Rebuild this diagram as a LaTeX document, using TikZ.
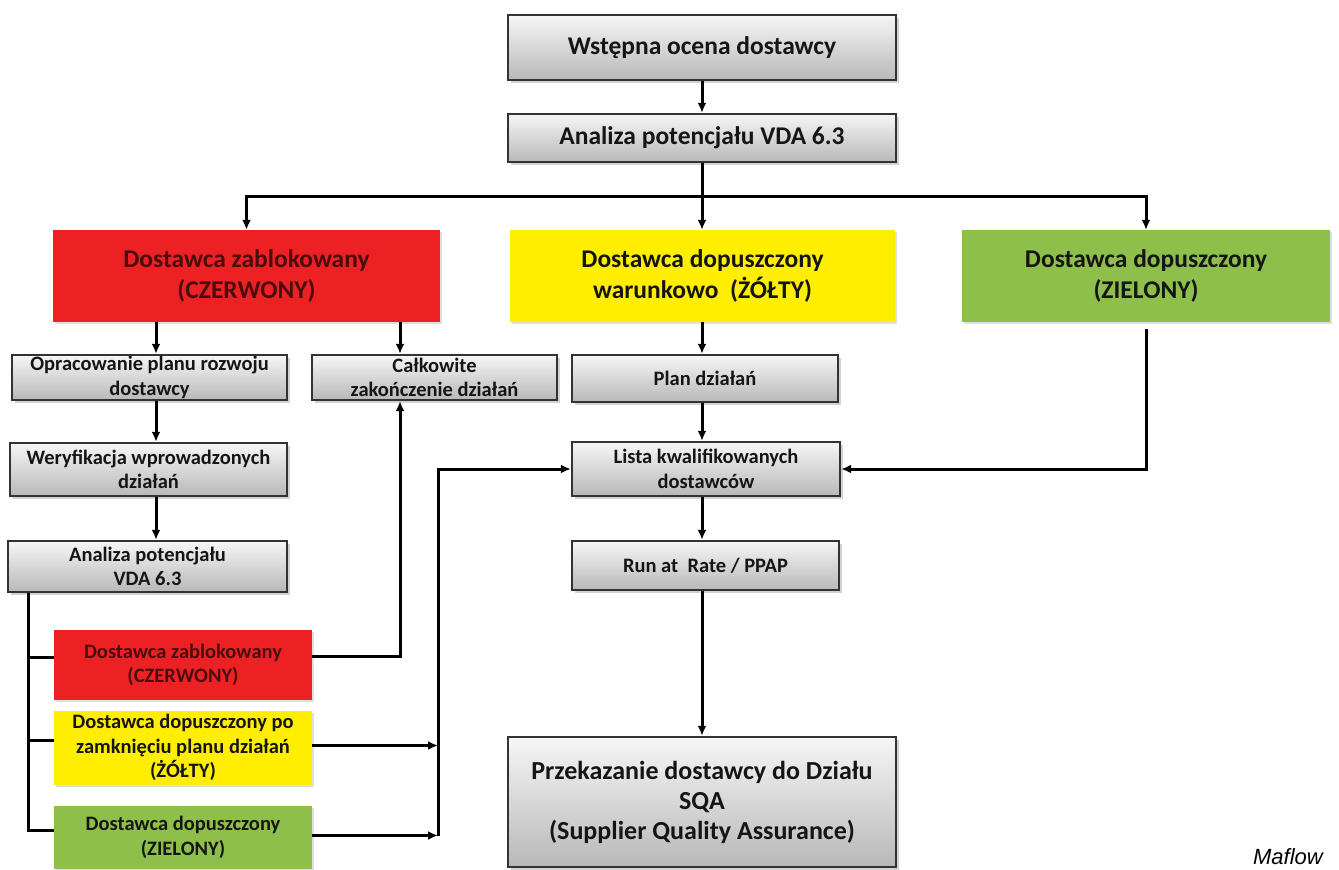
\documentclass[tikz,border=0pt]{standalone}
\usepackage{fontspec}
\setmainfont{Carlito}
\newfontfamily\capfont{Liberation Sans}
\usetikzlibrary{shadows,arrows.meta,calc}
\definecolor{gtop}{HTML}{F6F6F6}
\definecolor{gbot}{HTML}{B8B8B8}
\definecolor{gline}{HTML}{333333}
\definecolor{cred}{HTML}{ED2024}
\definecolor{cyel}{HTML}{FFEE00}
\definecolor{cgrn}{HTML}{8DBF4A}
\definecolor{tred}{HTML}{4A0D0D}
\definecolor{tdark}{HTML}{151515}
\begin{document}
\begin{tikzpicture}[x=1pt,y=-1pt,
 gbox/.style={draw=gline, line width=2.4pt, top color=gtop, bottom color=gbot,
   drop shadow={shadow xshift=3pt, shadow yshift=-3pt, opacity=0.35},
   align=center, text=tdark, inner xsep=1pt, inner ysep=0pt},
 cbox/.style={align=center, inner xsep=1pt, inner ysep=0pt, text=tdark,
   drop shadow={shadow xshift=2pt, shadow yshift=-2pt, opacity=0.25}},
 big/.style={font=\fontsize{25.5}{31}\selectfont\bfseries},
 small/.style={font=\fontsize{20.5}{24.5}\selectfont\bfseries},
 conn/.style={draw=black, line width=3pt, -{Latex[length=10pt,width=9pt]}},
 plain/.style={draw=black, line width=3pt}]
\useasboundingbox[fill=white] (0,0) rectangle (1339,870);

% top
\node[gbox,big,minimum width=388pt,minimum height=65pt] (wst) at (702,47.5) {Wstępna ocena dostawcy};
\node[gbox,big,minimum width=388pt,minimum height=48pt] (ana) at (702,138) {Analiza potencjału VDA 6.3};

% colour row
\node[cbox,big,fill=cred,text=tred,minimum width=387pt,minimum height=92pt] (red) at (246.5,276) {Dostawca zablokowany\\(CZERWONY)};
\node[cbox,big,fill=cyel,minimum width=385pt,minimum height=92pt] (yel) at (702.5,276) {Dostawca dopuszczony\\warunkowo~~(ŻÓŁTY)};
\node[cbox,big,fill=cgrn,minimum width=368pt,minimum height=92pt] (grn) at (1146,276) {Dostawca dopuszczony\\(ZIELONY)};

% left column
\node[gbox,small,minimum width=275pt,minimum height=45pt] (opr) at (149.5,377.5) {Opracowanie planu rozwoju\\dostawcy};
\node[gbox,small,minimum width=245pt,minimum height=45pt] (cal) at (434.5,377.5) {Całkowite\\zakończenie działań};
\node[gbox,small,minimum width=277pt,minimum height=53pt] (wer) at (148.5,469.5) {Weryfikacja wprowadzonych\\działań};
\node[gbox,small,minimum width=279pt,minimum height=51pt] (ana2) at (147.5,566.5) {Analiza potencjału\\VDA 6.3};
\node[cbox,small,fill=cred,text=tred,minimum width=258pt,minimum height=70pt] (red2) at (183,665) {Dostawca zablokowany\\(CZERWONY)};
\node[cbox,small,fill=cyel,minimum width=258pt,minimum height=74pt] (yel2) at (183,747.5) {Dostawca dopuszczony po\\zamknięciu planu działań\\(ŻÓŁTY)};
\node[cbox,small,fill=cgrn,minimum width=258pt,minimum height=63pt] (grn2) at (183,837.5) {Dostawca dopuszczony\\(ZIELONY)};

% middle column
\node[gbox,small,minimum width=266pt,minimum height=47pt] (plan) at (705,378.5) {Plan działań};
\node[gbox,small,minimum width=268pt,minimum height=54pt] (lista) at (706,469) {Lista kwalifikowanych\\dostawców};
\node[gbox,small,minimum width=267pt,minimum height=49pt] (run) at (705.5,565.5) {Run at~~Rate / PPAP};
\node[gbox,font=\fontsize{26}{30}\selectfont\bfseries,minimum width=388pt,minimum height=130pt] (sqa) at (702,802) {Przekazanie dostawcy do Działu\\SQA\\(Supplier Quality Assurance)};

\node[font=\capfont\itshape\fontsize{22}{26}\selectfont, text=black] (src) at (1288,857) {Maflow};

% helper coordinates
\coordinate (hy) at (0,196);
\coordinate (ax) at (156,0);
\coordinate (cx) at (400,0);
\coordinate (lx) at (28,0);
\coordinate (vx) at (438,0);
\coordinate (mx) at (702,0);

% top connectors
\draw[conn] (wst.south) -- (ana.north);
\draw[conn] (ana.south) -- (yel.north -| ana.south);
\draw[conn] (ana.south |- hy) -| (red.north);
\draw[conn] (ana.south |- hy) -| (grn.north);

% red branch
\draw[conn] (red.south -| ax) -- (opr.north -| ax);
\draw[conn] (red.south -| cx) -- (cal.north -| cx);
\draw[conn] (opr.south -| ax) -- (wer.north -| ax);
\draw[conn] (wer.south -| ax) -- (ana2.north -| ax);

% left bus
\coordinate (rl) at ($(red2.west)+(0,-8)$);
\coordinate (yl) at ($(yel2.west)+(0,-7)$);
\coordinate (gl) at ($(grn2.west)+(0,-7)$);
\draw[plain] (ana2.south -| lx) |- (gl);
\draw[plain] (rl -| lx) -- (rl);
\draw[plain] (yl -| lx) -- (yl);

% right outputs of small colour boxes
\coordinate (rr) at ($(red2.east)+(0,-9)$);
\coordinate (yr) at ($(yel2.east)+(0,-2)$);
\coordinate (gr) at ($(grn2.east)+(0,-2)$);
\draw[conn] (rr) -| (cal.south -| cx);
\draw[conn] (yr) -- (yr -| vx);
\draw[conn] (gr) -- (gr -| vx);
\draw[conn] (gr -| vx) |- (lista.west);

% middle column
\draw[conn] (yel.south -| mx) -- (plan.north -| mx);
\draw[conn] (plan.south -| mx) -- (lista.north -| mx);
\draw[conn] (lista.south -| mx) -- (run.north -| mx);
\draw[conn] (run.south -| mx) -- (sqa.north -| mx);

% green to list
\coordinate (gb) at ($(grn.south)+(0,7)$);
\draw[conn] (gb) |- (lista.east);
\end{tikzpicture}
\end{document}
